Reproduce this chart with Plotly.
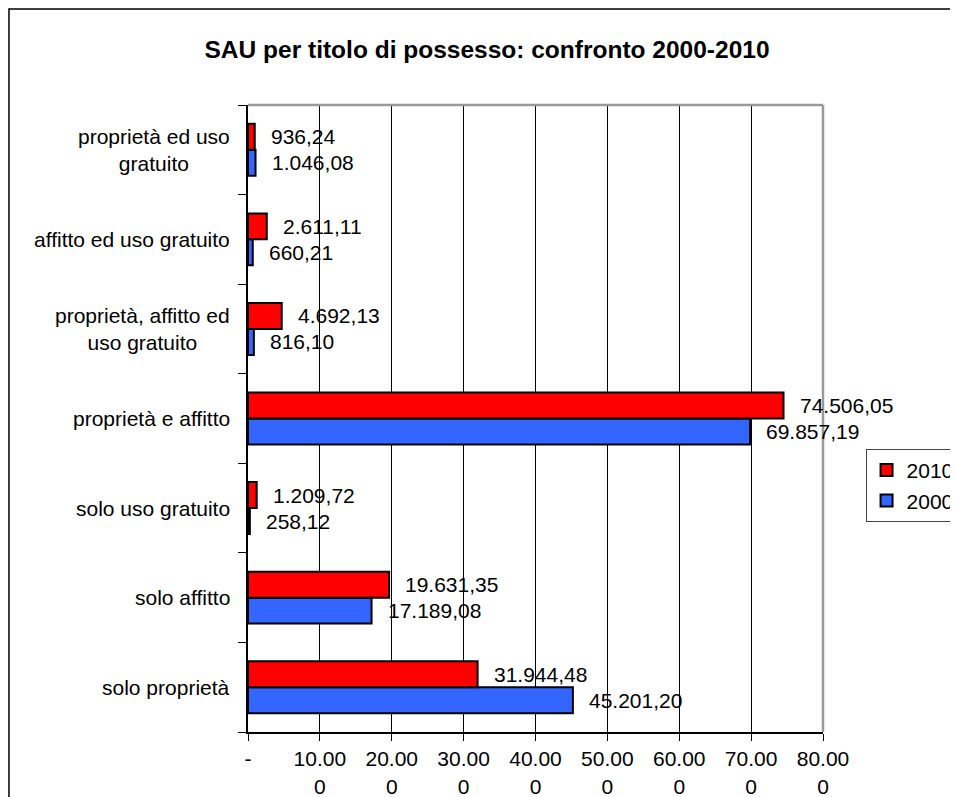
import plotly.graph_objects as go

# categories from bottom to top
categorie = [
    "solo proprietà",
    "solo affitto",
    "solo uso gratuito",
    "proprietà e affitto",
    "proprietà, affitto ed<br>uso gratuito",
    "affitto ed uso gratuito",
    "proprietà ed uso<br>gratuito",
]
sau_2000 = [45201.20, 17189.08, 258.12, 69857.19, 816.10, 660.21, 1046.08]
sau_2010 = [31944.48, 19631.35, 1209.72, 74506.05, 4692.13, 2611.11, 936.24]

tick_vals = [0, 10000, 20000, 30000, 40000, 50000, 60000, 70000, 80000]
tick_text = ["-", "10.00<br>0", "20.00<br>0", "30.00<br>0", "40.00<br>0",
             "50.00<br>0", "60.00<br>0", "70.00<br>0", "80.00<br>0"]

FONT = "Liberation Sans, Arial, sans-serif"


def fmt_it(v):
    # italian number format 1.234,56
    s = f"{v:,.2f}"
    return s.replace(",", "X").replace(".", ",").replace("X", ".")


fig = go.Figure()
fig.add_trace(go.Bar(
    y=categorie, x=sau_2000, name="2000", orientation="h",
    marker=dict(color="#3366FF", line=dict(color="black", width=2)),
))
fig.add_trace(go.Bar(
    y=categorie, x=sau_2010, name="2010", orientation="h",
    marker=dict(color="#FF0000", line=dict(color="black", width=2)),
))

# data labels
for cat, v in zip(categorie, sau_2010):
    fig.add_annotation(x=v, y=cat, xref="x", yref="y", text=fmt_it(v),
                       showarrow=False, xanchor="left", xshift=14, yshift=13,
                       font=dict(size=21, color="black", family=FONT))
for cat, v in zip(categorie, sau_2000):
    fig.add_annotation(x=v, y=cat, xref="x", yref="y", text=fmt_it(v),
                       showarrow=False, xanchor="left", xshift=14, yshift=-13,
                       font=dict(size=21, color="black", family=FONT))

# category labels, centered lines like the original
for cat in categorie:
    fig.add_annotation(x=-0.0278, y=cat, xref="paper", yref="y", text=cat,
                       showarrow=False, xanchor="right", align="center",
                       font=dict(size=21, color="black", family=FONT))

# top and right border of plot area (gray)
fig.add_shape(type="line", xref="paper", yref="paper", x0=0, x1=1, y0=1, y1=1,
              line=dict(color="#999999", width=2.5))
fig.add_shape(type="line", xref="paper", yref="paper", x0=1, x1=1, y0=0, y1=1,
              line=dict(color="#999999", width=2.5))
# outer frame of the chart
fig.add_shape(type="rect", xref="paper", yref="paper",
              x0=-0.4157, x1=1.4, y0=-0.3, y1=1.1531,
              line=dict(color="black", width=1.5))

fig.update_layout(
    width=958, height=797,
    barmode="group", bargap=0.42, bargroupgap=0,
    plot_bgcolor="white", paper_bgcolor="white",
    margin=dict(l=240, r=143, t=97, b=73, autoexpand=False),
    font=dict(family=FONT, size=21, color="black"),
    title=dict(text="<b>SAU per titolo di possesso: confronto 2000-2010</b>",
               x=0.4157, xref="paper", xanchor="center",
               y=1 - 41 / 797, yanchor="middle",
               font=dict(size=24.5, family=FONT, color="black")),
    legend=dict(x=1.074, y=0.4514, xanchor="left", yanchor="top",
                traceorder="reversed", bordercolor="#444444", borderwidth=1,
                itemwidth=30, bgcolor="white", font=dict(size=21, family=FONT)),
    xaxis=dict(range=[0, 80000], tickvals=tick_vals, ticktext=tick_text,
               showgrid=True, gridcolor="black", gridwidth=1,
               showline=True, linecolor="black", linewidth=2,
               ticks="outside", ticklen=7, tickcolor="black",
               ticklabelstandoff=0, automargin=False,
               zeroline=False, fixedrange=True),
    yaxis=dict(categoryorder="array", categoryarray=categorie,
               showticklabels=False, tickson="boundaries",
               ticks="outside", ticklen=8, tickcolor="black",
               showline=True, linecolor="black", linewidth=2,
               showgrid=False, automargin=False),
)

fig.write_html("out.html")
